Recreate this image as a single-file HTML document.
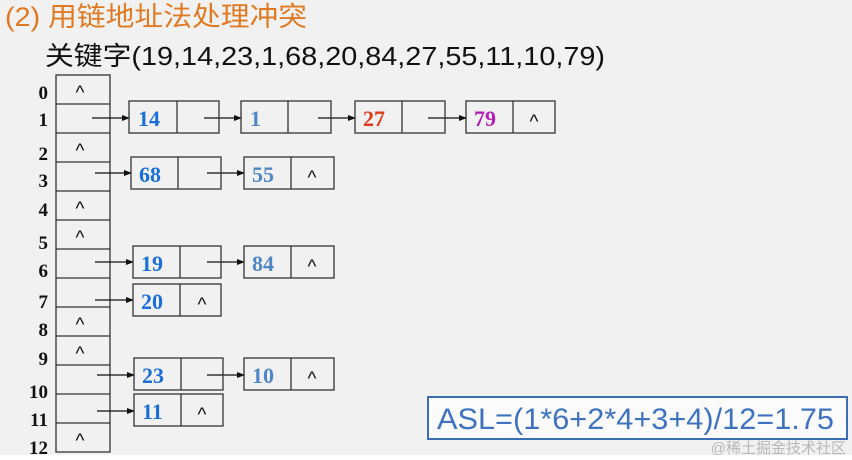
<!DOCTYPE html>
<html><head><meta charset="utf-8"><style>
html,body{margin:0;padding:0;background:#f2f2f2;}
svg{display:block;}
</style></head><body>
<svg width="852" height="460" xmlns="http://www.w3.org/2000/svg">
<rect x="0" y="0" width="852" height="455" fill="#f1f1f1"/>
<rect x="0" y="455" width="852" height="5" fill="#ffffff"/>
<text x="5" y="26" font-family="Liberation Sans, Noto Sans CJK SC, sans-serif" font-size="27" fill="#e07a22" textLength="302" lengthAdjust="spacingAndGlyphs">(2)  用链地址法处理冲突</text>
<text x="45" y="65" font-family="Liberation Sans, Noto Sans CJK SC, sans-serif" font-size="26" fill="#111" textLength="560" lengthAdjust="spacingAndGlyphs">关键字(19,14,23,1,68,20,84,27,55,11,10,79)</text>

<g font-family="Liberation Serif, serif" font-weight="bold" font-size="19" fill="#111" text-anchor="end">
<text x="48" y="99">0</text><text x="48" y="126">1</text><text x="48" y="160">2</text>
<text x="48" y="187">3</text><text x="48" y="216">4</text><text x="48" y="249">5</text>
<text x="48" y="277">6</text><text x="48" y="308">7</text><text x="48" y="336">8</text>
<text x="48" y="365">9</text><text x="48" y="398">10</text><text x="48" y="426">11</text>
<text x="48" y="454">12</text>
</g>

<g stroke="#333" stroke-width="1.3" fill="none">
<rect x="56" y="75" width="54" height="377"/>
<path d="M56 104H110M56 133H110M56 162H110M56 191H110M56 220H110M56 249H110M56 278H110M56 307H110M56 336H110M56 365H110M56 394H110M56 423H110"/>
</g>
<g font-family="Liberation Sans, sans-serif" font-size="19" fill="#111" text-anchor="middle">
<text x="80" y="99">^</text><text x="80" y="157">^</text><text x="80" y="215">^</text>
<text x="80" y="244">^</text><text x="80" y="331">^</text><text x="80" y="360">^</text>
<text x="80" y="447">^</text>
</g>

<defs><marker id="a" markerWidth="8" markerHeight="8" refX="7" refY="4" orient="auto" markerUnits="userSpaceOnUse"><path d="M0 1L8 4L0 7z" fill="#111"/></marker></defs>
<g stroke="#111" stroke-width="1.2" marker-end="url(#a)">
<line x1="92" y1="118" x2="129" y2="118"/><line x1="204" y1="118" x2="241" y2="118"/>
<line x1="318" y1="118" x2="355" y2="118"/><line x1="428" y1="118" x2="466" y2="118"/>
<line x1="95" y1="173" x2="131" y2="173"/><line x1="207" y1="173" x2="244" y2="173"/>
<line x1="95" y1="262" x2="133" y2="262"/><line x1="207" y1="262" x2="244" y2="262"/>
<line x1="95" y1="300" x2="133" y2="300"/>
<line x1="97" y1="375" x2="134" y2="375"/><line x1="207" y1="375" x2="244" y2="375"/>
<line x1="97" y1="411" x2="134" y2="411"/>
</g>

<g stroke="#333" stroke-width="1.3" fill="none">
<rect x="129" y="101" width="90" height="32"/><path d="M177 101V133"/>
<rect x="241" y="101" width="90" height="32"/><path d="M288 101V133"/>
<rect x="355" y="101" width="90" height="32"/><path d="M402 101V133"/>
<rect x="466" y="101" width="89" height="32"/><path d="M513 101V133"/>
<rect x="131" y="157" width="90" height="32"/><path d="M178 157V189"/>
<rect x="244" y="157" width="90" height="32"/><path d="M291 157V189"/>
<rect x="133" y="246" width="88" height="32"/><path d="M180 246V278"/>
<rect x="244" y="246" width="90" height="32"/><path d="M291 246V278"/>
<rect x="133" y="284" width="88" height="32"/><path d="M180 284V316"/>
<rect x="134" y="358" width="89" height="32"/><path d="M181 358V390"/>
<rect x="244" y="358" width="90" height="32"/><path d="M291 358V390"/>
<rect x="134" y="394" width="89" height="32"/><path d="M181 394V426"/>
</g>
<g font-family="Liberation Serif, serif" font-weight="bold" font-size="22">
<text x="138" y="126" fill="#1a6fd6">14</text>
<text x="250" y="126" fill="#4f86c6">1</text>
<text x="363" y="126" fill="#e03a1a">27</text>
<text x="474" y="126" fill="#b21fb5">79</text>
<text x="139" y="182" fill="#1a6fd6">68</text>
<text x="252" y="182" fill="#4f86c6">55</text>
<text x="141" y="271" fill="#1a6fd6">19</text>
<text x="252" y="271" fill="#4f86c6">84</text>
<text x="141" y="309" fill="#1a6fd6">20</text>
<text x="142" y="383" fill="#1a6fd6">23</text>
<text x="252" y="383" fill="#4f86c6">10</text>
<text x="142" y="419" fill="#1a6fd6">11</text>
</g>
<g font-family="Liberation Sans, sans-serif" font-size="19" fill="#111" text-anchor="middle">
<text x="534" y="128">^</text><text x="312" y="184">^</text><text x="312" y="273">^</text>
<text x="202" y="311">^</text><text x="312" y="385">^</text><text x="202" y="421">^</text>
</g>

<rect x="428" y="397" width="419" height="42" fill="#fbfbfb" stroke="#3b6db3" stroke-width="2"/>
<text x="437" y="429" font-family="Liberation Sans, sans-serif" font-size="30" fill="#3f73c0" textLength="397" lengthAdjust="spacingAndGlyphs">ASL=(1*6+2*4+3+4)/12=1.75</text>
<text x="846" y="453" text-anchor="end" font-family="Liberation Sans, Noto Sans CJK SC, sans-serif" font-size="15" fill="#b8b8b8">@稀土掘金技术社区</text>
</svg>
</body></html>
